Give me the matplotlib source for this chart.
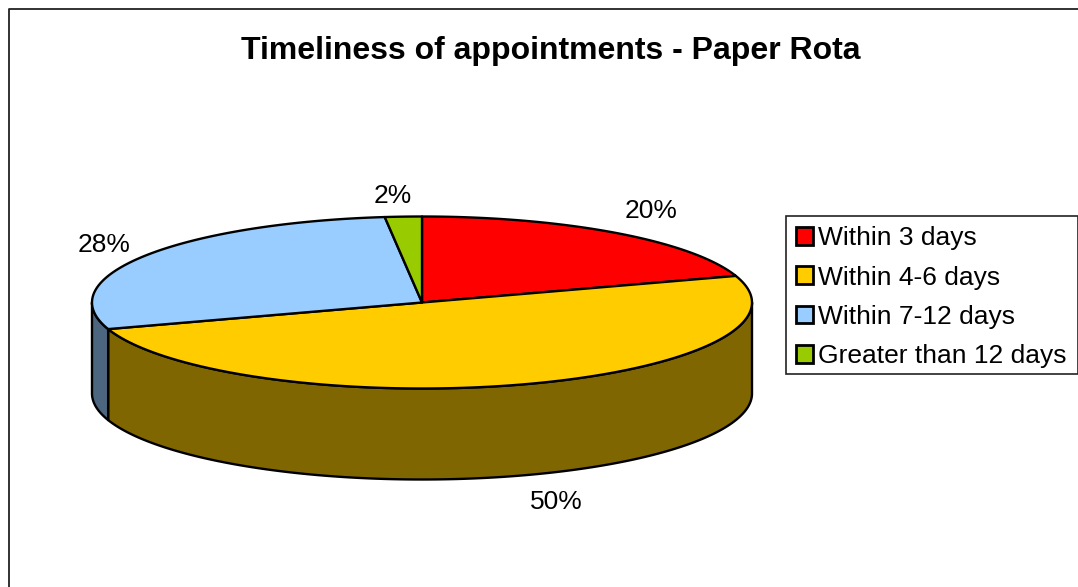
import numpy as np
import matplotlib
matplotlib.use('Agg')
import matplotlib.pyplot as plt
from matplotlib.patches import Patch, Polygon, Rectangle

plt.rcParams['font.family'] = ['Liberation Sans', 'DejaVu Sans']

title = 'Timeliness of appointments - Paper Rota'
categories = ['Within 3 days', 'Within 4-6 days', 'Within 7-12 days', 'Greater than 12 days']
values = [20, 50, 28.2, 1.8]
top_colors = ['#FF0000', '#FFCC00', '#99CCFF', '#99CC00']
side_colors = ['#800000', '#806600', '#4D6680', '#4D6600']

# pie geometry in image pixels
cx, cy = 422, 302.5
rx, ry = 330, 86
depth = 91
label_pos = [(651, 211), (556, 502), (104, 245), (393, 196)]


def rim(a0, a1):
    # angles are clockwise from 12 o'clock, in degrees
    t = np.radians(np.linspace(a0, a1, max(int(abs(a1 - a0) * 2), 2)))
    return cx + rx * np.sin(t), cy - ry * np.cos(t)


fig = plt.figure(figsize=(10.78, 5.87), dpi=100)
ax = fig.add_axes([0, 0, 1, 1])
ax.set_xlim(0, 1078)
ax.set_ylim(587, 0)
ax.axis('off')

# chart frame runs off the bottom and right of the image
ax.plot([1078, 8.5, 8.5], [9, 9, 587], color='#222222', lw=1.3, zorder=1)

edges = np.cumsum([0] + values) * 3.6

# side walls, only the part of each slice facing the viewer
for i in range(len(values)):
    a0, a1 = max(edges[i], 90), min(edges[i + 1], 270)
    if a0 >= a1:
        continue
    x, y = rim(a0, a1)
    pts = np.r_[np.c_[x, y], np.c_[x[::-1], y[::-1] + depth]]
    ax.add_patch(Polygon(pts, closed=True, fc=side_colors[i], ec='black', lw=1.7, joinstyle='round', zorder=2))

# top faces
for i in range(len(values)):
    x, y = rim(edges[i], edges[i + 1])
    pts = np.r_[[[cx, cy]], np.c_[x, y]]
    ax.add_patch(Polygon(pts, closed=True, fc=top_colors[i], ec='black', lw=1.7, joinstyle='round', zorder=3))

for v, (lx, ly) in zip(values, label_pos):
    ax.text(lx, ly, f'{v:.0f}%', ha='center', va='center', fontsize=19, color='black', zorder=4)

ax.text(550.5, 51, title, ha='center', va='center', fontsize=23.05, fontweight='bold', color='black')

# legend box drawn separately so it can reach the image edge
ax.add_patch(Rectangle((786, 215.5), 291.5, 158, fc='white', ec='#222222', lw=1.2, zorder=4))
handles = [Patch(fc=c, ec='black', lw=2) for c in top_colors]
leg = ax.legend(handles, categories, loc='upper left',
                bbox_to_anchor=(787 / 1078, 1 - 217.5 / 587), bbox_transform=fig.transFigure,
                fontsize=19, frameon=False,
                handlelength=0.66, handleheight=0.66, handletextpad=0.2, labelspacing=0.58,
                borderaxespad=0, borderpad=0.33)
leg.set_zorder(5)

fig.savefig('out.png', dpi=100)
